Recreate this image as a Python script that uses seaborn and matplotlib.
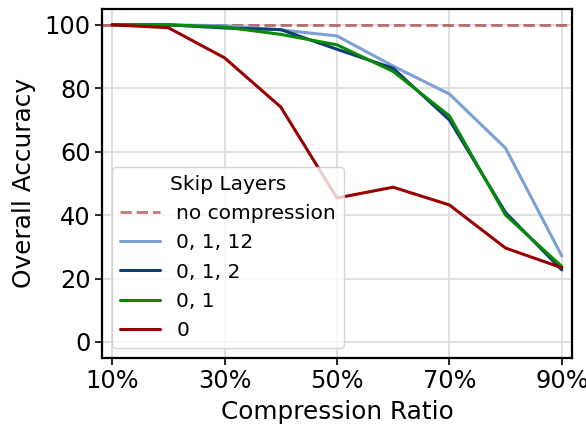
import numpy as np
import pandas as pd
import matplotlib
matplotlib.use("Agg")
import matplotlib.pyplot as plt
import seaborn as sns

ratios = [10, 20, 30, 40, 50, 60, 70, 80, 90]
skip_0_1_12 = [100, 100, 99.7, 98.4, 96.5, 87.0, 78.2, 61.1, 27.1]
skip_0_1_2 = [100, 100, 99.0, 98.5, 92.3, 86.3, 70.0, 40.8, 22.7]
skip_0_1 = [100, 100, 99.3, 97.0, 93.7, 85.3, 71.3, 40.0, 23.8]
skip_0 = [100, 99.1, 89.6, 74.1, 45.4, 48.8, 43.2, 29.6, 23.4]
no_compression = 100

series_names = ["0, 1, 12", "0, 1, 2", "0, 1", "0"]
series_vals = [skip_0_1_12, skip_0_1_2, skip_0_1, skip_0]
colors = ["#7ba0d2", "#0b3d78", "#088a08", "#990000"]
xtick_vals = [10, 30, 50, 70, 90]
xtick_labels = ["10%", "30%", "50%", "70%", "90%"]
ytick_vals = [0, 20, 40, 60, 80, 100]

rows = []
for name, vals in zip(series_names, series_vals):
    for r, v in zip(ratios, vals):
        rows.append({"ratio": r, "acc": v, "Skip Layers": name})
df = pd.DataFrame(rows)

sns.set_style("whitegrid")
plt.rcParams["font.family"] = ["DejaVu Sans"]
plt.rcParams["text.color"] = "black"
plt.rcParams["axes.labelcolor"] = "black"
plt.rcParams["xtick.color"] = "black"
plt.rcParams["ytick.color"] = "black"

fig = plt.figure(figsize=(5.86, 4.28), dpi=100)
ax = fig.add_axes([0.174, 0.164, 0.802, 0.815])

ax.axhline(no_compression, color="#8b0000", alpha=0.5, ls="--", lw=2.2,
           label="no compression", zorder=2)
sns.lineplot(data=df, x="ratio", y="acc", hue="Skip Layers",
             hue_order=series_names, palette=colors, lw=2.2, ax=ax, zorder=3)

ax.set_xlim(8.2, 91.8)
ax.set_ylim(-5, 105)
ax.set_xticks(xtick_vals)
ax.set_xticklabels(xtick_labels)
ax.set_yticks(ytick_vals)
ax.tick_params(axis="both", labelsize=17.3, length=5, width=1.2, color="black",
               labelcolor="black", left=True, bottom=True, pad=3)
ax.set_xlabel("Compression Ratio", fontsize=17.8, labelpad=5)
ax.set_ylabel("Overall Accuracy", fontsize=17.8, labelpad=6)
ax.grid(True, color="#dddddd", lw=1.3)
for s in ax.spines.values():
    s.set_color("black")
    s.set_linewidth(1.6)

handles, labels = ax.get_legend_handles_labels()
leg = ax.legend(handles, labels, title="Skip Layers", loc="lower left",
                fontsize=14.5, title_fontsize=14.5, frameon=True,
                framealpha=0.8, edgecolor="#cccccc", fancybox=True,
                borderaxespad=0.5, handlelength=2.0)

fig.savefig("out.png", dpi=100)
